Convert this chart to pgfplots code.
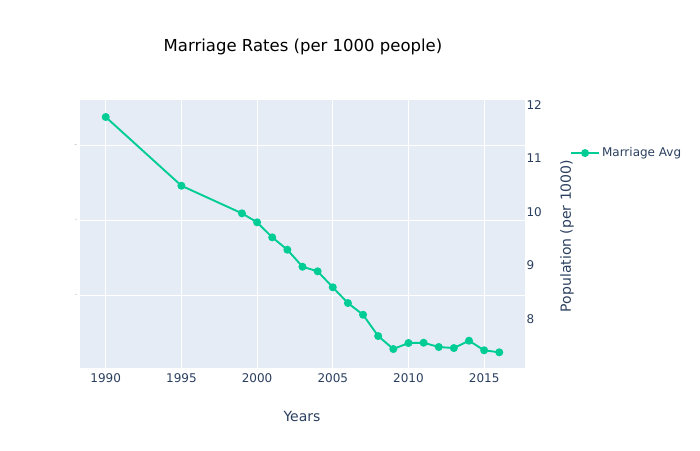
\documentclass[border=0pt]{standalone}
\usepackage{fontspec}
\setmainfont{DejaVu Sans}
\usepackage{pgfplots}
\pgfplotsset{compat=1.18}
\definecolor{bgc}{HTML}{E5ECF6}
\definecolor{txt}{HTML}{2A3F5F}
\definecolor{mteal}{HTML}{00CC96}
\begin{document}
\begin{tikzpicture}[x=1pt,y=1pt]
\path[use as bounding box] (-80,-82) rectangle (620,368);
% left axis: data, grid, (nearly invisible) tick labels
\begin{axis}[at={(0,0)}, anchor=south west, scale only axis,
  width=445pt, height=268pt,
  xmin=1988.3, xmax=2017.7, ymin=7.027, ymax=10.6,
  axis background/.style={fill=bgc},
  axis line style={draw=none}, major tick length=0pt,
  xtick={1990,1995,...,2015}, ytick={8,9,10},
  grid=major, grid style={white, line width=1pt},
  /pgf/number format/assume math mode=true,
  /pgf/number format/set thousands separator={},
  xticklabel style={font=\fontsize{12}{14}\selectfont, text=txt, yshift=-2pt},
  yticklabel style={font=\fontsize{1.5}{2}\selectfont, text=txt},
  legend style={at={(1.101,0.802)}, anchor=west, draw=none, fill=none,
    font=\fontsize{12}{14}\selectfont, text=txt, inner sep=0pt},
  legend image code/.code={
    \draw[#1, mark repeat=2, mark phase=2] plot coordinates {(0pt,0pt) (14pt,0pt) (28pt,0pt)};},
]
\addplot[color=mteal, line width=1.9pt, mark=*, mark size=3pt, mark options={fill=mteal, draw=mteal}]
coordinates {
(1990,10.373) (1995,9.457) (1999,9.089) (2000,8.969) (2001,8.769)
(2002,8.604) (2003,8.377) (2004,8.316) (2005,8.103) (2006,7.893)
(2007,7.737) (2008,7.453) (2009,7.280) (2010,7.360) (2011,7.364)
(2012,7.307) (2013,7.293) (2014,7.391) (2015,7.263) (2016,7.236)
};
\addlegendentry{Marriage Avg}
\end{axis}
% right axis: scale only
\begin{axis}[at={(0,0)}, anchor=south west, scale only axis,
  width=445pt, height=268pt,
  xmin=1988.3, xmax=2017.7, ymin=7.08, ymax=12.09,
  axis y line*=right, hide x axis,
  axis line style={draw=none}, major tick length=0pt,
  ytick={8,9,10,11,12},
  /pgf/number format/assume math mode=true,
  yticklabel style={font=\fontsize{12}{14}\selectfont, text=txt, xshift=-2pt},
]
\addplot[draw=none] coordinates {(1990,8)};
\end{axis}
\node[font=\fontsize{16.5}{20}\selectfont, text=black] at (223,321) {Marriage Rates (per 1000 people)};
\node[font=\fontsize{14}{16}\selectfont, text=txt] at (222,-48) {Years};
\node[font=\fontsize{14}{16}\selectfont, text=txt, rotate=90] at (487,132) {Population (per 1000)};
\end{tikzpicture}
\end{document}
